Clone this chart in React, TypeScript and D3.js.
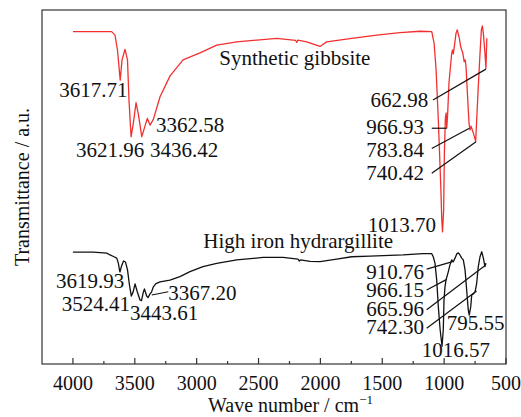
import React from "react";
import * as d3 from "d3";

// FTIR spectra: wavenumber (cm⁻¹) and transmittance (a.u., offset per sample)
const gibbsiteWave = [4000, 3687, 3660, 3640, 3618, 3603, 3579, 3559, 3547, 3530, 3514, 3490, 3470, 3444, 3422, 3399, 3377, 3350, 3296, 3215, 3110, 2973, 2838, 2676, 2514, 2353, 2200, 2191, 2182, 2110, 2003, 1949, 1747, 1544, 1356, 1194, 1100, 1081, 1065, 1047, 1027, 1019, 1013, 1004, 998, 990, 984, 979, 972, 961, 939, 932, 926, 918, 904, 894, 877, 866, 849, 838, 830, 823, 812, 799, 791, 783, 772, 762, 745, 737, 724, 710, 699, 691, 683, 670, 662, 655];
const gibbsiteT = [93.9, 93.9, 92.9, 88.7, 80.2, 85.9, 88.9, 85.9, 74.6, 64.2, 67.5, 73.8, 70.3, 64.2, 66.7, 69.4, 67.5, 69.1, 75.5, 81.4, 85.9, 87.9, 90.1, 91.0, 91.5, 92.0, 91.4, 90.8, 91.5, 91.0, 89.7, 91.0, 92.0, 92.9, 93.6, 94.0, 93.9, 90.6, 83.1, 68.9, 50.1, 40.7, 37.3, 43.5, 59.6, 69.5, 70.9, 66.7, 70.3, 79.3, 87.7, 88.7, 87.6, 89.6, 93.4, 94.4, 92.0, 89.6, 87.8, 85.4, 85.9, 84.0, 76.5, 68.0, 66.1, 67.2, 66.1, 65.0, 62.9, 68.9, 78.3, 87.7, 94.4, 95.5, 93.4, 87.7, 83.5, 92.0];

const hydrargilliteWave = [4000, 3835, 3727, 3700, 3668, 3646, 3633, 3624, 3620, 3607, 3591, 3575, 3559, 3543, 3528, 3514, 3498, 3480, 3458, 3446, 3431, 3422, 3404, 3393, 3377, 3365, 3350, 3329, 3296, 3216, 3135, 3054, 2949, 2838, 2676, 2464, 2302, 2181, 2170, 2160, 2084, 2003, 1868, 1747, 1599, 1332, 1171, 1101, 1088, 1074, 1060, 1047, 1032, 1017, 1007, 1001, 993, 985, 966, 953, 939, 926, 912, 898, 885, 872, 858, 845, 831, 818, 805, 797, 785, 777, 763, 750, 737, 724, 710, 696, 683, 670, 662];
const hydrargilliteT = [31.6, 31.6, 31.3, 30.8, 30.3, 29.9, 28.5, 26.6, 26.0, 27.7, 29.1, 28.8, 26.6, 22.3, 19.2, 20.3, 22.6, 20.4, 18.1, 17.9, 20.3, 21.2, 19.2, 18.8, 19.8, 20.3, 21.8, 22.7, 23.2, 23.7, 24.7, 26.1, 27.5, 28.4, 29.4, 30.1, 30.1, 29.6, 29.1, 29.4, 29.0, 28.9, 29.6, 30.3, 30.5, 30.8, 31.2, 31.2, 30.3, 28.5, 23.7, 16.2, 9.6, 5.0, 9.6, 18.1, 21.8, 23.7, 26.1, 28.0, 29.4, 28.9, 29.9, 31.1, 31.4, 30.8, 29.9, 29.4, 26.6, 20.9, 15.3, 13.8, 16.2, 19.5, 19.8, 20.4, 22.8, 27.5, 30.3, 31.7, 29.9, 27.5, 28.5];

const xTicks = [4000, 3500, 3000, 2500, 2000, 1500, 1000, 500];
const xMinorTicks = [3750, 3250, 2750, 2250, 1750, 1250, 750];

// Peak labels: text, anchor wavenumber / transmittance, text anchor
const gibbsiteLabels: [string, number, number, string][] = [
  ["3617.71", 4110, 75.5, "start"],
  ["3362.58", 3329, 65.6, "start"],
  ["3621.96", 3975, 58.4, "start"],
  ["3436.42", 3377, 58.4, "start"],
  ["Synthetic gibbsite", 2817, 84.5, "start"],
  ["662.98", 1128, 72.7, "end"],
  ["966.93", 1163, 65.0, "end"],
  ["783.84", 1163, 58.6, "end"],
  ["740.42", 1163, 52.0, "end"],
  ["1013.70", 1066, 37.4, "end"],
];
const hydrargilliteLabels: [string, number, number, string][] = [
  ["High iron hydrargillite", 2946, 32.7, "start"],
  ["3619.93", 4137, 21.4, "start"],
  ["3524.41", 4091, 15.1, "start"],
  ["3443.61", 3539, 12.4, "start"],
  ["3367.20", 3229, 18.1, "start"],
  ["910.76", 1163, 23.9, "end"],
  ["966.15", 1163, 18.8, "end"],
  ["665.96", 1163, 13.6, "end"],
  ["742.30", 1163, 8.4, "end"],
  ["795.55", 979, 9.6, "start"],
  ["1016.57", 1181, 2.1, "start"],
];

// Leader lines: [wave1, t1, wave2, t2]
const leaders: [number, number, number, number][] = [
  [1090, 74.6, 662, 83.3],
  [1100, 66.6, 979, 66.6],
  [1100, 60.9, 796, 66.6],
  [1100, 53.9, 742, 62.8],
  [3363, 19.5, 3229, 20.4],
  [1141, 26.8, 932, 28.9],
  [1141, 20.9, 979, 23.9],
  [1141, 15.3, 674, 27.7],
  [1141, 10.1, 738, 20.6],
];

const W = 521;
const H = 417;
const left = 42, right = 506, top = 10, bottom = 364;
const FONT = "'Liberation Serif', 'Times New Roman', serif";

export default function App() {
  const x = d3.scaleLinear().domain([4250, 500]).range([left, right]);
  const y = d3.scaleLinear().domain([0, 100]).range([bottom, top]);

  const line = d3
    .line<[number, number]>()
    .x((d) => x(d[0]))
    .y((d) => y(d[1]));

  const red = line(gibbsiteWave.map((w, i) => [w, gibbsiteT[i]] as [number, number])) || "";
  const black = line(hydrargilliteWave.map((w, i) => [w, hydrargilliteT[i]] as [number, number])) || "";

  const labelEl = (l: [string, number, number, string], i: number) => (
    <text
      key={l[0] + i}
      x={x(l[1])}
      y={y(l[2])}
      textAnchor={l[3] as any}
      fontSize={21}
      fill="#111"
    >
      {l[0]}
    </text>
  );

  return (
    <svg
      width={W}
      height={H}
      style={{ position: "absolute", left: 0, top: 0, background: "#fff" }}
      fontFamily={FONT}
    >
      <rect x={0} y={0} width={W} height={H} fill="#fff" />
      <path d={red} fill="none" stroke="#f23030" strokeWidth={1.3} strokeLinejoin="round" />
      <path d={black} fill="none" stroke="#111" strokeWidth={1.3} strokeLinejoin="round" />
      {leaders.map((l, i) => (
        <line key={i} x1={x(l[0])} y1={y(l[1])} x2={x(l[2])} y2={y(l[3])} stroke="#111" strokeWidth={1.2} />
      ))}
      {gibbsiteLabels.map(labelEl)}
      {hydrargilliteLabels.map(labelEl)}
      <rect
        x={left}
        y={top}
        width={right - left}
        height={bottom - top}
        fill="none"
        stroke="#333"
        strokeWidth={1.2}
      />
      {xTicks.map((t) => (
        <g key={t}>
          <line x1={x(t)} x2={x(t)} y1={bottom} y2={bottom - 6} stroke="#333" strokeWidth={1.2} />
          <text x={x(t)} y={bottom + 26} textAnchor="middle" fontSize={20} fill="#111">
            {t}
          </text>
        </g>
      ))}
      {xMinorTicks.map((t) => (
        <line key={t} x1={x(t)} x2={x(t)} y1={bottom} y2={bottom - 3} stroke="#333" strokeWidth={1.2} />
      ))}
      <text x={208} y={412} fontSize={20} fill="#111">
        Wave number / cm
        <tspan fontSize={13} dy={-8}>−1</tspan>
      </text>
      <text
        transform={`translate(29, ${(top + bottom) / 2}) rotate(-90)`}
        textAnchor="middle"
        fontSize={20}
        fill="#111"
      >
        Transmittance / a.u.
      </text>
    </svg>
  );
}
